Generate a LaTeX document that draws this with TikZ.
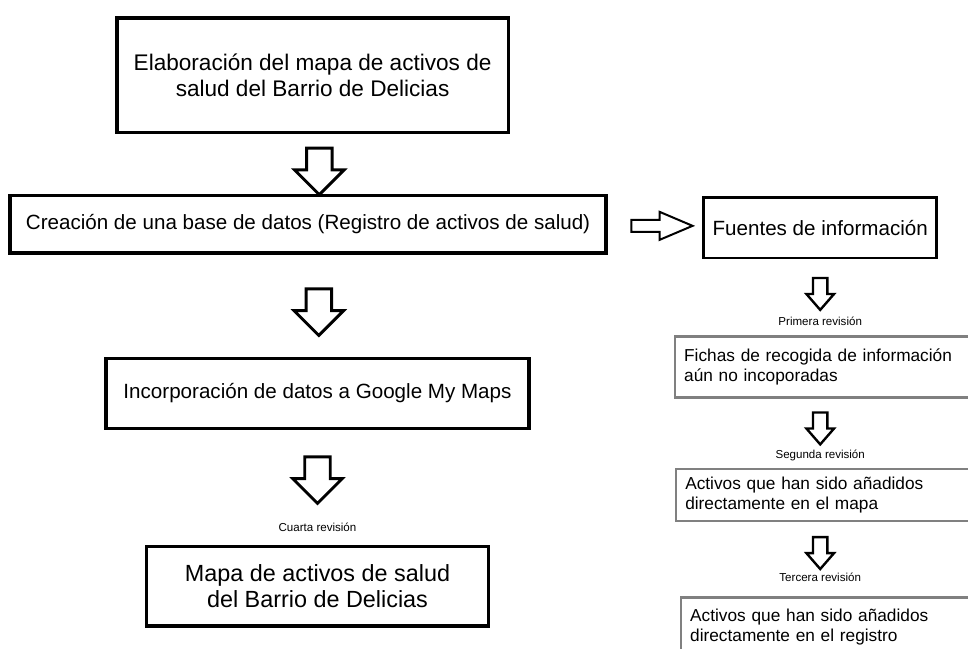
\documentclass[tikz,border=0pt]{standalone}
\usepackage{fontspec}
\setmainfont{Liberation Sans}
\usepackage{tikz}
\usetikzlibrary{shapes.arrows, positioning, calc}
\tikzstyle{stage} = [rectangle, draw=black, line width=2.6pt, inner sep=0pt, text centered, font=\fontsize{15.5}{19}\selectfont]
\tikzstyle{source} = [rectangle, draw=black!50, line width=1.8pt, inner xsep=7pt, inner ysep=0pt, minimum width=8.44cm, text width=7.94cm, align=left, font=\fontsize{13}{15}\selectfont]
\tikzstyle{bigarrow} = [single arrow, draw=black, line width=2.2pt, fill=white, shape border rotate=270, inner sep=8.5pt, minimum height=35pt, single arrow head extend=9pt, single arrow tip angle=90]
\tikzstyle{smallarrow} = [single arrow, draw=black, line width=1.8pt, fill=white, shape border rotate=270, inner sep=4.5pt, minimum height=24pt, single arrow head extend=5pt, single arrow tip angle=82]
\tikzstyle{sidearrow} = [single arrow, draw=black, line width=1.5pt, fill=white, inner sep=3.75pt, minimum height=46pt, single arrow head extend=6pt, single arrow tip angle=46]
\tikzstyle{revlabel} = [inner sep=0pt, font=\fontsize{8.7}{10}\selectfont]

\begin{document}
\begin{tikzpicture}[node distance=3.5cm]
        \useasboundingbox (0,0) rectangle (25.61,-17.145);
        % Main flow
        \node (elab) [stage, minimum width=10.36cm, minimum height=3.03cm, align=center, font=\fontsize{17}{20}\selectfont] at (8.27,-1.99) {Elaboración del mapa de activos de\\salud del Barrio de Delicias};
        \node (crea) [stage, below of=elab, xshift=-0.12cm, yshift=-0.44cm, minimum width=15.77cm, minimum height=1.53cm] {Creación de una base de datos (Registro de activos de salud)};
        \node (incorp) [stage, below of=crea, xshift=0.25cm, yshift=-0.98cm, minimum width=11.2cm, minimum height=1.85cm] {Incorporación de datos a Google My Maps};
        \node (mapa) [stage, below of=incorp, yshift=-1.6cm, minimum width=9.04cm, minimum height=2.1cm, align=center, font=\fontsize{17.6}{20}\selectfont] {Mapa de activos de salud\\del Barrio de Delicias};

        % Sources
        \node (fuentes) [stage, right of=crea, xshift=10.05cm, yshift=-0.09cm, line width=2.2pt, minimum width=6.17cm, minimum height=1.61cm] {Fuentes de información};
        \node (fichas) [source, below of=fuentes, xshift=0.37cm, yshift=-0.19cm, minimum height=1.61cm] {Fichas de recogida de información\\aún no incoporadas};
        \node (anadmapa) [source, below of=fichas, xshift=0.03cm, yshift=0.11cm, minimum height=1.37cm] {Activos que han sido añadidos\\directamente en el mapa};
        \node (anadreg) [source, below of=anadmapa, xshift=0.13cm, yshift=0cm, minimum height=1.58cm] {Activos que han sido añadidos\\directamente en el registro};

        % Block arrows
        \node (arr1) [bigarrow, xshift=0.24cm] at ($(elab.south)!0.52!(crea.north)$) {};
        \node (arr2) [bigarrow, xshift=0.16cm] at ($(crea.south)!0.5!(incorp.north)$) {};
        \node (arr3) [bigarrow] at ($(incorp.south)!0.38!(mapa.north)$) {};
        \node (arrside) [sidearrow] at ($(crea.east)!0.5!(fuentes.west)$) {};
        \node (sarr1) [smallarrow] at ($(fuentes.south)!0.4!(fuentes.south |- fichas.north)$) {};
        \node (sarr2) [smallarrow] at ($(fuentes.south |- fichas.south)!0.37!(fuentes.south |- anadmapa.north)$) {};
        \node (sarr3) [smallarrow] at ($(fuentes.south |- anadmapa.south)!0.36!(fuentes.south |- anadreg.north)$) {};

        % Revision labels
        \node (rev1) [revlabel] at ($(fuentes.south)!0.81!(fuentes.south |- fichas.north)$) {Primera revisión};
        \node (rev2) [revlabel] at ($(fuentes.south |- fichas.south)!0.82!(fuentes.south |- anadmapa.north)$) {Segunda revisión};
        \node (rev3) [revlabel] at ($(fuentes.south |- anadmapa.south)!0.74!(fuentes.south |- anadreg.north)$) {Tercera revisión};
        \node (rev4) [revlabel] at ($(incorp.south)!0.85!(mapa.north)$) {Cuarta revisión};
\end{tikzpicture}
\end{document}
